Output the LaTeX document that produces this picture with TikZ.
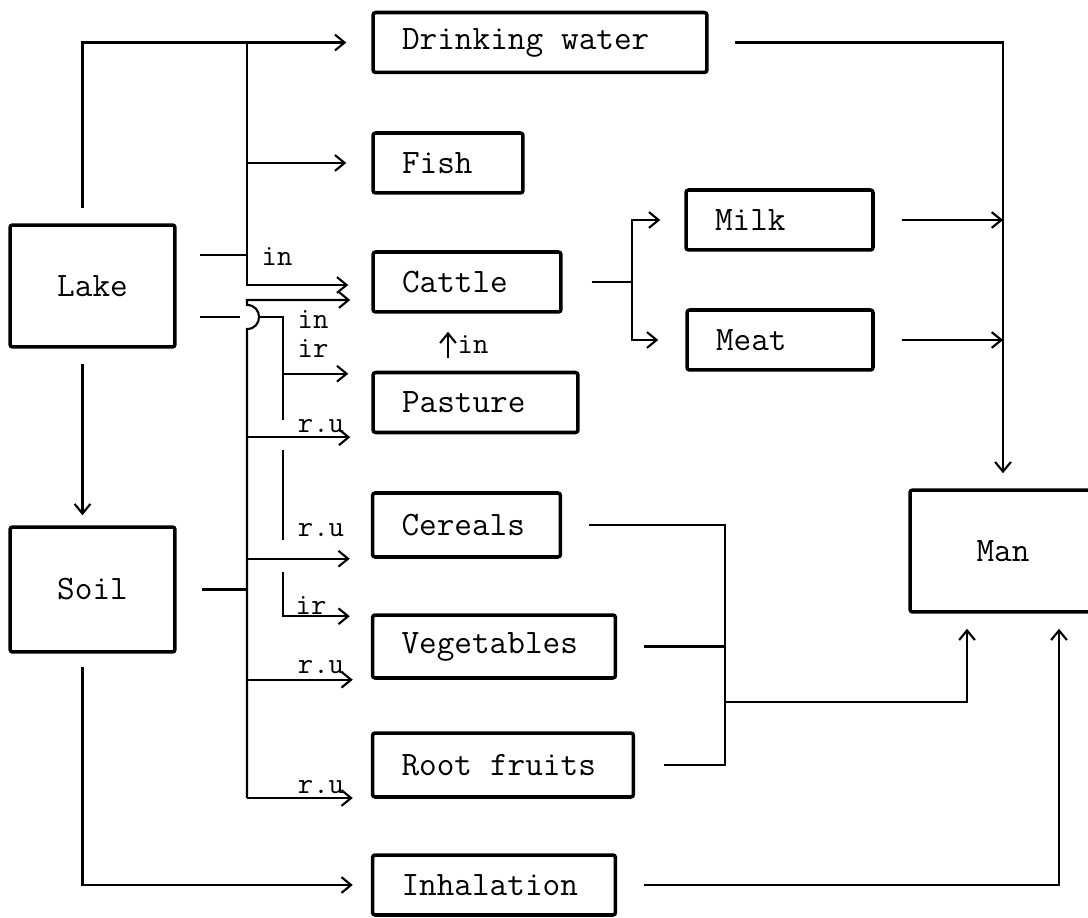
\documentclass[tikz,border=0pt]{standalone}
\usetikzlibrary{arrows.meta,calc}

\begin{document}
\begin{tikzpicture}[x=0.02cm, y=-0.02cm,
    >={Straight Barb[length=5.5pt,width=9pt]},
    box/.style={draw, line width=2pt, rounded corners=1.5pt,
      font=\fontsize{19.5pt}{22pt}\selectfont\ttfamily, minimum height=1.2cm},
    lbox/.style={box, align=left, inner xsep=0.58cm},
    wire/.style={line width=1.2pt},
    lbl/.style={font=\fontsize{17pt}{19pt}\selectfont\ttfamily, inner sep=0pt}]
    \useasboundingbox (0,0) rectangle (1088,918);

    % 1. Boxes
    \node[box, minimum width=3.3cm, minimum height=2.44cm] (lake) at (92.5,286) {Lake};
    \node[box, minimum width=3.3cm, minimum height=2.5cm] (soil) at (92.5,589.5) {Soil};
    \node[lbox, text width=5.52cm] (drink) at (540,42.5) {Drinking\hspace{.525em}water};
    \node[lbox, text width=1.84cm] (fish) at (448,163) {Fish};
    \node[lbox, text width=2.6cm] (cattle) at (467,282) {Cattle};
    \node[lbox, text width=2.94cm] (pasture) at (475.5,402.5) {Pasture};
    \node[lbox, text width=2.6cm, minimum height=1.28cm] (cereals) at (466.5,525) {Cereals};
    \node[lbox, text width=3.7cm, minimum height=1.26cm] (veg) at (494,646.5) {Vegetables};
    \node[lbox, text width=4.06cm, minimum height=1.28cm] (root) at (503,765) {Root\hspace{.525em}fruits};
    \node[lbox, text width=3.7cm] (inhal) at (494,885) {Inhalation};
    \node[lbox, text width=2.58cm] (milk) at (779.5,220) {Milk};
    \node[lbox, text width=2.56cm] (meat) at (780,340) {Meat};
    \node[box, minimum width=3.72cm, minimum height=2.44cm] (man) at (1003,551) {Man};

    % 2. Junctions
    \coordinate (wb) at (247,285);
    \coordinate (sb) at (247,798);
    \coordinate (st) at (247,300);
    \coordinate (hop) at (247,317);
    \coordinate (lkA) at (200,255);
    \coordinate (lkB) at (200,317);
    \coordinate (ib) at (283,317);
    \coordinate (ib2) at (283,450);
    \coordinate (ib3) at (283,572);
    \coordinate (cs) at (632,282);
    \coordinate (pj) at (725,702);
    \coordinate (pin) at (448,358);

    % 3. Lake
    \draw[wire, ->, shorten <=0.3cm, shorten >=0.5cm] ([xshift=-0.2cm]lake.north) |- (drink.west);
    \draw[wire, ->, shorten >=0.46cm] (wb |- drink.west) -- (wb) -- (wb -| cattle.west);
    \draw[wire, ->, shorten >=0.5cm] (wb |- fish.west) -- (fish.west);
    \draw[wire] (lkA) -- (lkA -| wb);
    \node[lbl] (in1) at (277,257) {in};
    \draw[wire] (lkB) -- ([xshift=-0.14cm]hop);
    \draw[wire] ([xshift=0.24cm]hop) -- (ib) -- ++(0,103);
    \draw[wire, ->, shorten >=0.46cm] ($(ib |- pasture.north)+(0,3)$) -- ($(pasture.north west)+(0,3)$);
    \node[lbl] (in2) at (313,320) {in};
    \node[lbl] (ir1) at (313,349) {ir};
    \draw[wire, ->, shorten <=0.3cm, shorten >=0.2cm] ([xshift=-0.2cm]lake.south) -- ([xshift=-0.2cm]soil.north);

    % 4. Soil
    \draw[wire, ->, shorten >=0.42cm] (sb) -- ([yshift=-0.24cm]hop)
        .. controls +(0.32cm,0) and +(0.32cm,0) .. ([yshift=0.24cm]hop) -- (st) -- (st -| cattle.west);
    \draw[wire] ([xshift=0.5cm]soil.east) -- (soil.east -| sb);
    \draw[wire, ->, shorten >=0.42cm] ($(sb |- pasture.south)+(0,3)$) -- ($(pasture.south west)+(0,3)$);
    \draw[wire, ->, shorten >=0.42cm] (sb |- cereals.south) -- (cereals.south west);
    \draw[wire, ->, shorten >=0.36cm] (sb |- veg.south) -- (veg.south west);
    \draw[wire, ->, shorten >=0.36cm] (sb) -- (sb -| root.west);
    \node[lbl] (ru1) at (321,426) {r.u};
    \node[lbl] (ru2) at (321,530) {r.u};
    \node[lbl] (ru3) at (321,667) {r.u};
    \node[lbl] (ru4) at (321,787) {r.u};
    \draw[wire] (ib2) -- ++(0,90);
    \draw[wire, ->, shorten >=0.42cm] (ib3) |- ($(veg.north west)+(0,3)$);
    \node[lbl] (ir2) at (311,606) {ir};
    \draw[wire, ->, shorten <=0.26cm, shorten >=0.36cm] ([xshift=-0.2cm]soil.south) |- (inhal.west);

    % 5. Cattle products
    \draw[wire, shorten <=0.58cm] (cattle.east) -- (cs);
    \draw[wire, ->, shorten >=0.48cm] (cs) |- (milk.west);
    \draw[wire, ->, shorten >=0.54cm] (cs) |- (meat.west);
    \draw[wire, ->, shorten >=0.36cm] (pin) -- (pin |- cattle.south);
    \node[lbl] (in3) at (473,345) {in};

    % 6. Into man
    \draw[wire, ->, shorten <=0.52cm, shorten >=0.3cm] (drink.east) -| (man.north);
    \draw[wire, ->, shorten <=0.54cm] (milk.east) -- (milk.east -| man.north);
    \draw[wire, ->, shorten <=0.54cm] (meat.east) -- (meat.east -| man.north);
    \draw[wire, shorten <=0.54cm, shorten >=0.58cm] (cereals.east) -| (pj) |- (root.east);
    \draw[wire, shorten <=0.54cm] (veg.east) -- (veg.east -| pj);
    \draw[wire, ->, shorten >=0.3cm] (pj) -| ([xshift=-0.72cm]man.south);
    \draw[wire, ->, shorten <=0.54cm, shorten >=0.3cm] (inhal.east) -| ([xshift=1.12cm]man.south);
\end{tikzpicture}
\end{document}
